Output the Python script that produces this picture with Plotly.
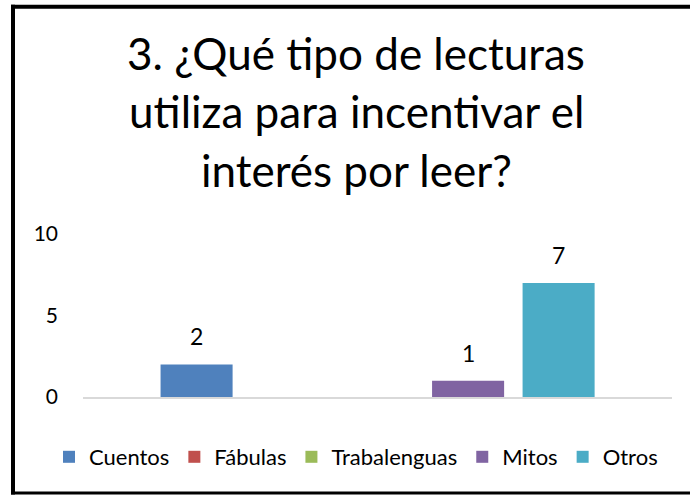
import plotly.graph_objects as go

# ---- data ----
series_names = ["Cuentos", "Fábulas", "Trabalenguas", "Mitos", "Otros"]
series_values = [2, 0, 0, 1, 7]
series_colors = ["#4F81BD", "#C0504D", "#9BBB59", "#8064A2", "#4BACC6"]
title_lines = ["3. ¿Qué tipo de lecturas", "utiliza para incentivar el", "interés por leer?"]
y_ticks = [0, 5, 10]

FONT = "Lato, Carlito, Calibri, sans-serif"

# ---- layout geometry (screen pixels; page body margin removed below) ----
W, H = 690, 495
PLOT_X0, PLOT_X1 = 83, 672
PLOT_Y0, PLOT_Y1 = 234, 397
L, R, T, B = PLOT_X0, W - PLOT_X1, PLOT_Y0, H - PLOT_Y1
plot_w = PLOT_X1 - PLOT_X0
plot_h = PLOT_Y1 - PLOT_Y0


def py(screen_y):
    """screen pixel row -> paper y"""
    return (PLOT_Y1 - screen_y) / plot_h


def px(screen_x):
    """screen pixel column -> paper x"""
    return (screen_x - PLOT_X0) / plot_w


fig = go.Figure()
for name, val, col in zip(series_names, series_values, series_colors):
    fig.add_trace(go.Bar(
        x=[name], y=[val], name=name,
        marker=dict(color=col, line=dict(width=0)),
    ))
    if val > 0:
        fig.add_annotation(
            x=name, y=val, xref="x", yref="y", text=str(val),
            showarrow=False, yanchor="bottom", yshift=12,
            font=dict(family=FONT, size=23, color="#000000"),
        )

# title as three centred lines
title_centres = [53, 111.5, 170]
for line, yc in zip(title_lines, title_centres):
    fig.add_annotation(
        x=px(356), xref="paper", xanchor="center",
        y=py(yc), yref="paper", yanchor="middle",
        text=line, showarrow=False,
        font=dict(family=FONT, size=44, color="#000000"),
    )

# outer border: left, top and bottom edges (right edge is outside the picture)
border = dict(color="#000000", width=4)
fig.add_shape(type="line", xref="paper", yref="paper",
              x0=px(13), x1=px(13), y0=py(494.5), y1=py(4.7), line=border)
fig.add_shape(type="line", xref="paper", yref="paper",
              x0=px(11), x1=px(700), y0=py(6.7), y1=py(6.7), line=border)
fig.add_shape(type="line", xref="paper", yref="paper",
              x0=px(11), x1=px(700), y0=py(493), y1=py(493),
              line=dict(color="#000000", width=3))

fig.update_layout(
    width=W, height=H,
    margin=dict(l=L, r=R, t=T, b=B, pad=0, autoexpand=False),
    paper_bgcolor="#FFFFFF", plot_bgcolor="#FFFFFF",
    barmode="overlay", bargap=0.204,
    font=dict(family=FONT, size=21, color="#000000"),
    showlegend=True,
    legend=dict(
        orientation="h", x=px(49), xanchor="left", xref="paper",
        y=py(457), yanchor="middle", yref="paper",
        font=dict(family=FONT, size=22, color="#000000"),
        itemwidth=30, tracegroupgap=0, bgcolor="rgba(0,0,0,0)",
    ),
    xaxis=dict(
        type="category", range=[-1.255, 5.253],
        showticklabels=False, ticks="", showgrid=False, zeroline=False,
        showline=True, linecolor="#D9D9D9", linewidth=2,
        fixedrange=True,
    ),
    yaxis=dict(
        range=[0, 10], tickvals=y_ticks, ticktext=[str(v) for v in y_ticks],
        showgrid=False, zeroline=False, showline=False, ticks="",
        ticklabelstandoff=24,
        tickfont=dict(family=FONT, size=21, color="#000000"),
        fixedrange=True,
    ),
)

fig.write_html(
    "out.html",
    config={"displayModeBar": False, "staticPlot": True},
    post_script=(
        "document.body.style.margin='0';"
        "document.body.style.overflow='hidden';"
        "document.documentElement.style.overflow='hidden';"
    ),
)
